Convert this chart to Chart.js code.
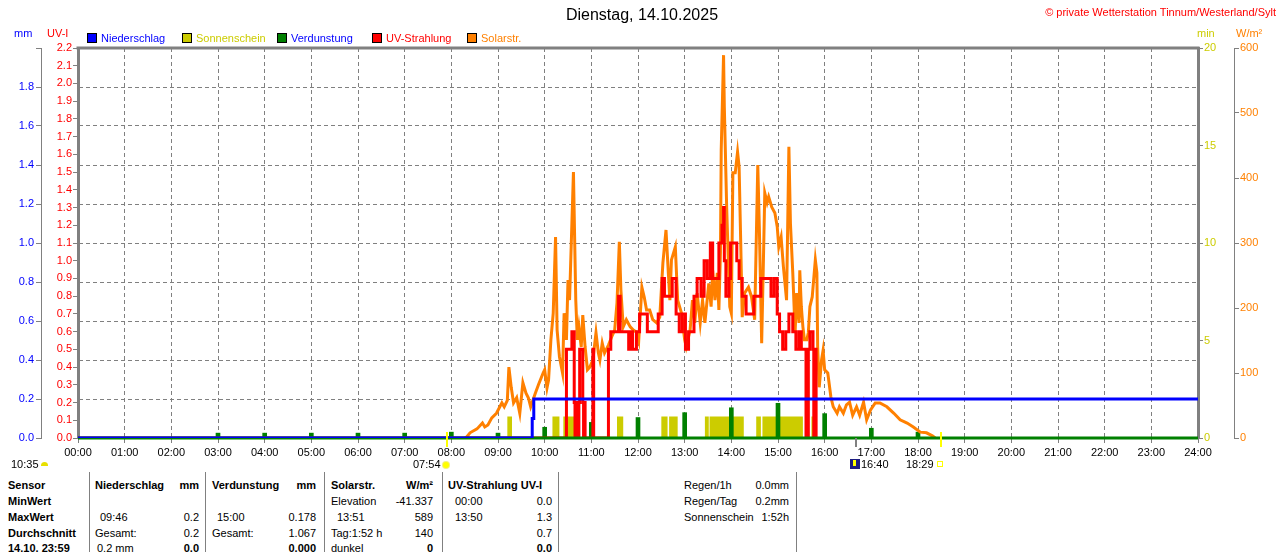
<!DOCTYPE html>
<html>
<head>
<meta charset="utf-8">
<title>Dienstag, 14.10.2025</title>
<script src="https://cdn.jsdelivr.net/npm/chart.js@4.4.0/dist/chart.umd.min.js"></script>
<style>
html, body { margin: 0; padding: 0; background: #fff; }
#wrap { position: relative; width: 1280px; height: 552px; overflow: hidden; font-family: "Liberation Sans", Arial, sans-serif; font-size: 11px; color: #000; }
#chart { position: absolute; left: 0; top: 0; }
.txt { position: absolute; white-space: nowrap; line-height: 13px; }
.b { font-weight: bold; }
.sep { position: absolute; top: 472px; width: 1px; height: 80px; background: #808080; }
</style>
</head>
<body>
<div id="wrap">
  <canvas id="chart" width="1280" height="460"></canvas>
</div>
<script>
// x axis labels
const hourLabels = ['00:00', '01:00', '02:00', '03:00', '04:00', '05:00', '06:00', '07:00', '08:00',
    '09:00', '10:00', '11:00', '12:00', '13:00', '14:00', '15:00', '16:00', '17:00', '18:00',
    '19:00', '20:00', '21:00', '22:00', '23:00', '24:00'];

// Solarstrahlung W/m²
const solarTimes = ['08:18', '08:20', '08:24', '08:33', '08:40', '08:43', '08:47', '08:52', '08:58', '09:05',
    '09:08', '09:12', '09:14', '09:17', '09:20', '09:24', '09:28', '09:32', '09:36', '09:39',
    '09:42', '09:48', '09:52', '09:58', '10:00', '10:03', '10:05', '10:08', '10:11', '10:14',
    '10:16', '10:19', '10:23', '10:25', '10:28', '10:30', '10:32', '10:35', '10:37', '10:40',
    '10:42', '10:44', '10:47', '10:49', '10:52', '10:55', '10:58', '11:02', '11:06', '11:09',
    '11:11', '11:14', '11:17', '11:22', '11:26', '11:30', '11:33', '11:36', '11:38', '11:41',
    '11:45', '11:50', '11:54', '11:59', '12:01', '12:05', '12:08', '12:11', '12:15', '12:19',
    '12:24', '12:28', '12:32', '12:36', '12:39', '12:41', '12:43', '12:48', '12:51', '12:56',
    '13:00', '13:02', '13:07', '13:10', '13:13', '13:16', '13:20', '13:23', '13:26', '13:31',
    '13:34', '13:36', '13:39', '13:42', '13:44', '13:46', '13:47', '13:50', '13:51', '13:54',
    '13:56', '13:58', '14:00', '14:02', '14:05', '14:08', '14:10', '14:12', '14:14', '14:17',
    '14:22', '14:26', '14:30', '14:34', '14:36', '14:39', '14:41', '14:43', '14:46', '14:48',
    '14:52', '14:56', '14:59', '15:01', '15:04', '15:07', '15:11', '15:14', '15:16', '15:19',
    '15:22', '15:24', '15:27', '15:28', '15:30', '15:32', '15:34', '15:37', '15:39', '15:41',
    '15:44', '15:48', '15:50', '15:51', '15:53', '15:56', '15:58', '16:00', '16:04', '16:08',
    '16:11', '16:16', '16:19', '16:24', '16:28', '16:32', '16:36', '16:41', '16:45', '16:50',
    '16:54', '16:59', '17:05', '17:11', '17:20', '17:29', '17:37', '17:46', '17:54', '18:03',
    '18:11', '18:19', '18:22'];
const solarValues = [0, 2, 8, 14, 23, 17, 20, 31, 38, 54,
    48, 58, 109, 78, 54, 62, 38, 85, 69, 62,
    48, 69, 82, 100, 105, 77, 89, 151, 192, 309,
    166, 125, 100, 192, 151, 243, 212, 330, 409, 212,
    151, 171, 140, 189, 140, 105, 109, 120, 162, 131,
    120, 146, 131, 143, 155, 166, 208, 302, 228, 171,
    182, 171, 166, 162, 151, 232, 217, 197, 197, 182,
    177, 186, 269, 320, 254, 212, 274, 294, 212, 192,
    151, 140, 166, 212, 177, 223, 177, 212, 177, 238,
    202, 258, 212, 254, 197, 285, 443, 589, 509, 355,
    278, 202, 192, 408, 408, 440, 417, 305, 186, 223,
    232, 217, 182, 420, 325, 146, 258, 377, 362, 371,
    355, 346, 325, 294, 309, 263, 212, 448, 330, 254,
    162, 223, 177, 258, 202, 171, 151, 151, 162, 202,
    217, 274, 254, 140, 78, 120, 135, 105, 100, 63,
    48, 38, 48, 38, 51, 55, 35, 48, 35, 55,
    28, 43, 54, 54, 48, 38, 28, 23, 17, 9,
    8, 3, 0];

// UV-Index (Stufen)
const uvTimes = ['00:00', '10:28', '10:35', '10:38', '10:39', '10:40', '10:41', '10:42', '10:43', '10:44',
    '10:45', '10:49', '10:50', '10:51', '10:52', '11:02', '11:03', '11:22', '11:25', '11:35',
    '11:37', '11:48', '11:50', '11:53', '11:58', '12:02', '12:12', '12:26', '12:31', '12:34',
    '12:44', '12:49', '12:53', '12:57', '13:01', '13:05', '13:12', '13:16', '13:21', '13:25',
    '13:29', '13:33', '13:36', '13:44', '13:48', '13:50', '13:51', '13:53', '13:57', '13:59',
    '14:07', '14:10', '14:14', '14:19', '14:29', '14:38', '14:51', '14:55', '14:59', '15:02',
    '15:06', '15:10', '15:14', '15:19', '15:23', '15:27', '15:30', '15:36', '15:37', '15:38',
    '15:39', '15:41', '15:45', '15:46', '15:47', '15:49'];
const uvValues = [0, 0.5, 0.6, 0.2, 0, 0.2, 0, 0.2, 0, 0.2,
    0.5, 0.2, 0, 0.2, 0, 0.5, 0, 0.5, 0.6, 0.8,
    0.6, 0.5, 0.6, 0.5, 0.6, 0.7, 0.6, 0.7, 0.9, 0.8,
    0.9, 0.7, 0.6, 0.7, 0.5, 0.6, 0.8, 0.9, 0.8, 1.0,
    0.9, 1.1, 0.9, 1.1, 1.2, 1.3, 1.0, 0.8, 0.9, 1.1,
    1.0, 0.9, 0.8, 0.7, 0.8, 0.9, 0.8, 0.9, 0.7, 0.6,
    0.5, 0.6, 0.7, 0.6, 0.5, 0.6, 0.5, 0, 0.5, 0,
    0.5, 0.6, 0.5, 0, 0.5, 0];

// Sonnenschein min (Intervalle)
const sunStarts = ['09:12', '10:10', '10:24', '11:33', '12:30', '12:40', '13:26', '13:32', '14:32', '14:40', '15:43'];
const sunEnds = ['09:18', '10:19', '10:39', '11:41', '12:38', '12:51', '13:31', '14:16', '14:38', '15:32', '15:48'];
const sunValues = [1.1, 1.1, 1.1, 1.1, 1.1, 1.1, 1.1, 1.1, 1.1, 1.1, 1.1];

// Verdunstung mm
const evapTimes = ['03:00', '04:00', '05:00', '06:00', '07:00', '08:00', '09:00', '10:00',
    '11:00', '12:00', '13:00', '14:00', '15:00', '16:00', '17:00', '18:00'];
const evapValues = [0.025, 0.025, 0.025, 0.025, 0.025, 0.03, 0.025, 0.055,
    0.08, 0.105, 0.13, 0.155, 0.178, 0.125, 0.05, 0.03];

// Niederschlag mm
const rainTimes = ['00:00', '09:44', '09:46', '24:00'];
const rainValues = [0, 0.1, 0.2, 0.2];

// Sonnenaufgang / -untergang
const sunrise = '07:54';
const sunset = '18:29';
const markTime = '16:40';

const toHours = s => {
    const [h, m] = s.split(':').map(Number);
    return h + m / 60;
};
const toPoints = (times, values) => times.map((t, i) => ({ x: toHours(t), y: values[i] }));

const sunPoints = [{ x: 0, y: 0 }];
sunStarts.forEach((s, i) => {
    sunPoints.push({ x: toHours(s), y: sunValues[i] });
    sunPoints.push({ x: toHours(sunEnds[i]), y: 0 });
});
sunPoints.push({ x: 24, y: 0 });

const GRAY = '#808080';
Chart.defaults.font.family = '"Liberation Sans", Arial, sans-serif';
Chart.defaults.font.size = 11;

// Rahmen oben, Grundlinie und Markierungen an der Zeitachse
const framePlugin = {
    id: 'frame',
    afterDatasetDraw(chart, args) {
        // gruene Grundlinie ueber UV/Solar, unter Niederschlag
        if (chart.data.datasets[args.index].label !== 'UV-Strahlung') return;
        const { ctx, chartArea } = chart;
        ctx.save();
        ctx.strokeStyle = '#008000';
        ctx.lineWidth = 3;
        ctx.beginPath();
        ctx.moveTo(chartArea.left, chartArea.bottom);
        ctx.lineTo(chartArea.right, chartArea.bottom);
        ctx.stroke();
        ctx.restore();
    },
    afterDraw(chart) {
        const { ctx, chartArea, scales } = chart;
        ctx.save();
        ctx.strokeStyle = GRAY;
        ctx.lineWidth = 3;
        ctx.beginPath();
        ctx.moveTo(chartArea.left - 1.5, chartArea.top);
        ctx.lineTo(chartArea.right + 1.5, chartArea.top);
        ctx.stroke();

        ctx.lineWidth = 2;
        ctx.strokeStyle = '#ffff00';
        [sunrise, sunset].forEach(t => {
            const x = Math.round(scales.x.getPixelForValue(toHours(t)));
            ctx.beginPath();
            ctx.moveTo(x, chartArea.bottom - 6);
            ctx.lineTo(x, chartArea.bottom + 9);
            ctx.stroke();
        });
        ctx.strokeStyle = GRAY;
        const mx = Math.round(scales.x.getPixelForValue(toHours(markTime)));
        ctx.beginPath();
        ctx.moveTo(mx, chartArea.bottom);
        ctx.lineTo(mx, chartArea.bottom + 9);
        ctx.stroke();
        ctx.restore();
    }
};

const yAxis = (pos, weight, max, step, color, width, borderWidth, extra) => Object.assign({
    type: 'linear',
    position: pos,
    weight: weight,
    min: 0,
    max: max,
    ticks: {
        stepSize: step,
        color: color,
        autoSkip: false,
        padding: 1,
        callback: v => v.toFixed(step < 1 ? 1 : 0)
    },
    grid: { drawOnChartArea: false, color: GRAY, tickColor: GRAY, tickLength: 5, tickBorderDash: [] },
    border: { color: GRAY, width: borderWidth },
    afterFit: scale => { scale.width = width; }
}, extra || {});

const ctx = document.getElementById('chart').getContext('2d');
new Chart(ctx, {
    type: 'line',
    data: {
        datasets: [
            {
                label: 'Niederschlag',
                type: 'line',
                data: toPoints(rainTimes, rainValues),
                yAxisID: 'mm',
                stepped: true,
                borderColor: '#0000ff',
                borderWidth: 3,
                pointRadius: 0,
                order: 0
            },
            {
                label: 'UV-Strahlung',
                type: 'line',
                data: toPoints(uvTimes, uvValues),
                yAxisID: 'uv',
                stepped: true,
                borderColor: '#ff0000',
                borderWidth: 3,
                pointRadius: 0,
                order: 1
            },
            {
                label: 'Solarstr.',
                type: 'line',
                data: toPoints(solarTimes, solarValues),
                yAxisID: 'wm2',
                borderColor: '#ff8000',
                borderWidth: 3,
                pointRadius: 0,
                tension: 0,
                order: 2
            },
            {
                label: 'Verdunstung',
                type: 'bar',
                data: toPoints(evapTimes, evapValues),
                yAxisID: 'mm',
                backgroundColor: '#008000',
                barThickness: 4,
                order: 3
            },
            {
                label: 'Sonnenschein',
                type: 'line',
                data: sunPoints,
                yAxisID: 'sun',
                stepped: true,
                fill: 'origin',
                backgroundColor: '#cccc00',
                borderWidth: 0,
                pointRadius: 0,
                order: 4
            }
        ]
    },
    options: {
        responsive: false,
        animation: false,
        layout: { padding: { top: 48, left: 0, right: 0, bottom: 0 } },
        plugins: {
            legend: { display: false },
            tooltip: { enabled: false }
        },
        scales: {
            x: {
                type: 'linear',
                min: 0,
                max: 24,
                offset: false,
                ticks: {
                    stepSize: 1,
                    autoSkip: false,
                    maxRotation: 0,
                    color: '#000',
                    padding: 3,
                    callback: v => hourLabels[v]
                },
                grid: { color: GRAY, tickColor: GRAY, tickLength: 5, tickBorderDash: [], offset: false },
                border: { color: '#008000', width: 2, dash: [4, 3] },
                afterFit: scale => { scale.height = 22; }
            },
            uv: yAxis('left', 0, 2.2, 0.1, '#ff0000', 37, 3),
            mm: yAxis('left', 1, 2.0, 0.2, '#0000ff', 41, 1, {
                ticks: {
                    stepSize: 0.2, color: '#0000ff', autoSkip: false, padding: 2,
                    callback: v => (v >= 1.99 ? '' : v.toFixed(1))
                },
                grid: { drawOnChartArea: true, color: GRAY, tickColor: GRAY, tickLength: 5, tickBorderDash: [] },
                border: { color: GRAY, width: 1, dash: [4, 3] }
            }),
            sun: yAxis('right', 0, 20, 5, '#cccc00', 36, 3),
            wm2: yAxis('right', 1, 600, 100, '#ff8000', 46, 1)
        }
    },
    plugins: [framePlugin]
});

// Texte rund um das Diagramm
const wrap = document.getElementById('wrap');
function addText(text, x, y, opts) {
    opts = opts || {};
    const el = document.createElement('div');
    el.className = 'txt' + (opts.bold ? ' b' : '');
    el.textContent = text;
    if (opts.right) {
        el.style.right = (1280 - x) + 'px';
    } else {
        el.style.left = x + 'px';
    }
    const size = opts.size || 11;
    el.style.fontSize = size + 'px';
    el.style.lineHeight = (size + 2) + 'px';
    el.style.top = (y - (size + 2) / 2) + 'px';
    if (opts.color) el.style.color = opts.color;
    wrap.appendChild(el);
    return el;
}
function addBox(x, y, w, h, css) {
    const el = document.createElement('div');
    el.style.position = 'absolute';
    el.style.left = x + 'px';
    el.style.top = y + 'px';
    el.style.width = w + 'px';
    el.style.height = h + 'px';
    Object.assign(el.style, css);
    wrap.appendChild(el);
    return el;
}

// Titel
const title = addText('Dienstag, 14.10.2025', 0, 15, { size: 16 });
title.style.width = '1284px';
title.style.textAlign = 'center';
addText('\u00a9 private Wetterstation Tinnum/Westerland/Sylt', 1276, 12, { right: true, color: '#ff0000' });

// Achsentitel
addText('mm', 14, 33, { color: '#0000ff' });
addText('UV-I', 47, 33, { color: '#ff0000' });
addText('min', 1197, 33, { color: '#cccc00' });
addText('W/m\u00b2', 1236, 33, { color: '#ff8000' });

// Legende
const legendItems = [
    { x: 87, fill: '#0000ff', text: 'Niederschlag', color: '#0000ff' },
    { x: 182, fill: '#cccc00', text: 'Sonnenschein', color: '#cccc00' },
    { x: 277, fill: '#008000', text: 'Verdunstung', color: '#0000ff' },
    { x: 372, fill: '#ff0000', text: 'UV-Strahlung', color: '#ff0000' },
    { x: 467, fill: '#ff8000', text: 'Solarstr.', color: '#ff8000' }
];
legendItems.forEach(item => {
    addBox(item.x, 33, 8, 8, { background: item.fill, border: '1px solid #000' });
    addText(item.text, item.x + 14, 38, { color: item.color });
});

// Sonnenzeiten unter der Achse
addText('10:35', 11, 464);
addBox(41, 462, 7, 4, { background: '#e8e000', borderRadius: '4px 4px 0 0' });
addText('07:54', 413, 464);
addBox(443, 462, 6, 6, { background: '#ffff00', borderRadius: '50%', boxShadow: '0 0 0 1px #f4f080' });
addBox(850, 459, 10, 10, { background: '#1c1c80' });
addBox(853, 460, 3, 6, { background: '#ffff00' });
addText('16:40', 861, 464);
addText('18:29', 906, 464);
addBox(937, 461, 4, 4, { border: '1px solid #ffff00' });

// Tabelle
[89, 205, 324, 442, 558, 796].forEach(x => {
    const s = document.createElement('div');
    s.className = 'sep';
    s.style.left = x + 'px';
    wrap.appendChild(s);
});
const rows = [485, 501, 517, 533, 548];
const cells = [
    ['Sensor', 8, 0, 'b'], ['MinWert', 8, 1, 'b'], ['MaxWert', 8, 2, 'b'], ['Durchschnitt', 8, 3, 'b'], ['14.10. 23:59', 8, 4, 'b'],
    ['Niederschlag', 95, 0, 'b'], ['mm', 199, 0, 'br'], ['09:46', 100, 2], ['0.2', 199, 2, 'r'],
    ['Gesamt:', 95, 3], ['0.2', 199, 3, 'r'], ['0.2 mm', 97, 4], ['0.0', 199, 4, 'br'],
    ['Verdunstung', 212, 0, 'b'], ['mm', 316, 0, 'br'], ['15:00', 217, 2], ['0.178', 316, 2, 'r'],
    ['Gesamt:', 212, 3], ['1.067', 316, 3, 'r'], ['0.000', 316, 4, 'br'],
    ['Solarstr.', 331, 0, 'b'], ['W/m\u00b2', 433, 0, 'br'], ['Elevation', 331, 1], ['-41.337', 433, 1, 'r'],
    ['13:51', 337, 2], ['589', 433, 2, 'r'], ['Tag:1:52 h', 331, 3], ['140', 433, 3, 'r'],
    ['dunkel', 331, 4], ['0', 433, 4, 'br'],
    ['UV-Strahlung UV-I', 448, 0, 'b'], ['00:00', 455, 1], ['0.0', 552, 1, 'r'], ['13:50', 455, 2], ['1.3', 552, 2, 'r'],
    ['0.7', 552, 3, 'r'], ['0.0', 552, 4, 'br'],
    ['Regen/1h', 684, 0], ['0.0mm', 789, 0, 'r'], ['Regen/Tag', 684, 1], ['0.2mm', 789, 1, 'r'],
    ['Sonnenschein', 684, 2], ['1:52h', 789, 2, 'r']
];
cells.forEach(c => {
    const flags = c[3] || '';
    addText(c[0], c[1], rows[c[2]], { bold: flags.includes('b'), right: flags.includes('r') });
});
</script>
</body>
</html>
